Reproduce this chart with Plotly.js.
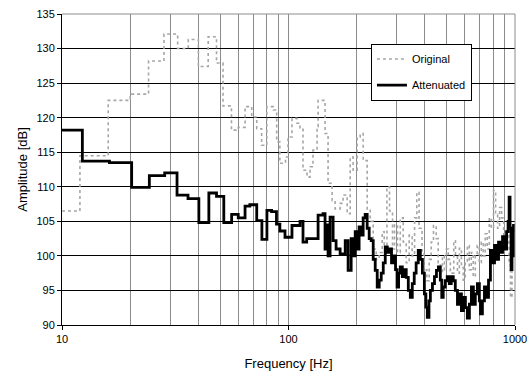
<!DOCTYPE html>
<html>
<head>
<meta charset="utf-8">
<script src="https://cdn.plot.ly/plotly-3.0.1.min.js"></script>
<style>html,body{margin:0;padding:0;background:#fff;}#chart{width:532px;height:373px;}</style>
</head>
<body>
<div id="chart"></div>
<script>
// Original (dotted) – frequency [Hz] and amplitude [dB]
const origFreq = [10, 12, 16, 20, 24.1, 28.2, 32.4, 36.1, 40, 44.2, 48.1, 51.4, 56, 60, 64.3, 68.8, 72.4, 76.1, 80.2, 85.7, 88.7, 91.6, 97,
  99.5, 103.6, 109, 112.4, 115.9, 120.7, 124.5, 128.3, 133.7, 135.1, 145, 149.5, 155.8, 160.6, 169, 174.2, 181.5, 187.2, 192.9, 200.9, 207.2, 213.6, 222.5,
  229.5, 236.6, 243.9, 251.5, 259.2, 264.6, 272, 279.3, 287.9, 293.8, 302.9, 311.5, 321, 331, 341, 351.5, 360.3, 368.6, 377, 388.6, 396.7, 408, 418, 426.6,
  436.7, 449, 458, 468.2, 478, 487.8, 497.9, 508, 518.3, 536.5, 546, 557, 568, 580, 591, 603, 616, 628, 641, 654, 668, 681, 695, 710, 724, 739, 754, 770,
  785, 804, 821, 838, 855, 873, 891, 909, 928, 942, 955, 970, 985, 1000];
const origDb = [106.5, 114.5, 122.5, 123.4, 128.2, 132.1, 130.0, 131.3, 127.4, 131.7, 127.9, 121.7, 118.2, 118.6, 121.6, 120.1, 118.4, 116.0, 121.6, 121.1, 116.5, 113.4, 114.3,
  117.2, 119.9, 119.2, 118.3, 112.4, 111.4, 112.9, 115.3, 118.7, 122.5, 117.7, 110.5, 108.0, 106.8, 107.6, 108.8, 106.1, 114.3, 112.4, 117.2, 117.7, 113.8, 106.6,
  105.0, 101.0, 99.5, 100.5, 103.5, 101.5, 110.0, 106.5, 101.0, 104.5, 100.5, 105.5, 102.0, 99.0, 103.0, 100.0, 105.5, 109.2, 104.0, 100.5, 98.0, 96.4, 99.5, 102.0,
  104.4, 102.5, 99.0, 97.5, 100.0, 98.0, 101.0, 99.5, 97.5, 102.2, 100.0, 97.5, 101.1, 98.5, 96.5, 99.0, 101.5, 98.0, 100.5, 97.0, 100.0, 101.5, 99.0, 102.0, 100.0, 103.2, 101.0, 105.5,
  104.0, 109.5, 106.0, 104.0, 107.0, 105.5, 103.0, 101.5, 104.0, 99.0, 94.0, 100.5, 103.0, 100.0];

// Attenuated (solid) – frequency [Hz] and amplitude [dB]
const attFreq = [10, 12.3, 16.2, 20.3, 24.3, 28.4, 32.2, 36, 40.2, 44.5, 48.1, 51.8, 56.1, 60, 64.3, 67.5, 72.4, 76.3, 80.3, 84.2, 88.5, 91.6, 96.5,
  103.6, 112.4, 115.9, 120.3, 135.1, 142.1, 145, 147.4, 149.5, 152.6, 157.4, 162.2, 169, 178, 183.3, 189.1, 192.9, 197, 200.9, 205, 209.3, 213.6, 218, 222.5, 227.1,
  231.8, 236.6, 241.5, 246.4, 251.5, 256.7, 262, 267.4, 273, 279.3, 285, 290.8, 296.8, 301.5, 306.3, 311.5, 318, 324.5, 331, 338, 345, 352, 359, 366, 374, 382,
  390, 398, 404, 410, 417, 423, 432, 441, 450, 459, 468, 475, 482, 492, 502, 513, 523, 534, 545, 557, 568, 580, 592, 604, 616, 629, 642, 655, 668, 682, 696, 704,
  718, 733, 748, 764, 779, 795, 812, 829, 846, 863, 881, 899, 918, 932, 942, 951, 961, 970, 985, 1000];
const attDb = [118.2, 113.7, 113.5, 109.9, 111.6, 112.0, 108.8, 108.3, 104.8, 109.1, 108.6, 104.8, 106.0, 105.5, 107.2, 107.4, 105.1, 102.4, 106.6, 106.4, 104.6, 103.6, 102.7,
  104.4, 105.0, 102.0, 102.5, 105.9, 106.1, 101.0, 104.5, 100.0, 105.6, 102.2, 101.0, 100.3, 102.2, 97.9, 102.5, 100.0, 103.5, 101.0, 104.2, 103.0, 105.5, 106.0, 104.0, 102.5,
  102.2, 99.5, 97.9, 95.5, 96.5, 97.5, 99.0, 101.3, 100.5, 101.0, 99.0, 100.0, 98.0, 95.5, 97.5, 98.4, 97.0, 98.0, 96.9, 95.0, 94.0, 96.0, 97.5, 99.0, 100.8, 99.5,
  97.5, 94.5, 92.6, 91.1, 93.5, 95.0, 96.0, 97.0, 97.9, 98.4, 96.5, 94.0, 95.5, 96.4, 97.0, 96.0, 97.0, 96.4, 95.0, 93.0, 94.5, 92.1, 94.0, 92.5, 91.0, 93.0, 95.5, 93.0, 94.5, 96.0, 93.5, 91.6,
  93.5, 95.5, 94.0, 96.5, 100.8, 99.0, 101.5, 99.5, 102.0, 100.5, 102.8, 101.0, 103.5, 105.0, 108.5, 104.0, 98.0, 100.0, 104.4, 103.5];

const xTickVals = [10, 100, 1000];
const xTickText = ['10', '100', '1000'];
const xMinorVals = [20, 30, 40, 50, 60, 70, 80, 90, 200, 300, 400, 500, 600, 700, 800, 900];
const seriesNames = ['Original', 'Attenuated'];

const traces = [
  {
    x: origFreq, y: origDb, name: seriesNames[0], type: 'scatter', mode: 'lines',
    line: {shape: 'hv', color: '#a6a6a6', width: 1.6, dash: 'dot'},
    legendgroup: 'a'
  },
  {
    x: attFreq, y: attDb, name: seriesNames[1], type: 'scatter', mode: 'lines',
    line: {shape: 'hv', color: '#000000', width: 2.8},
    legendgroup: 'b'
  }
];

const layout = {
  width: 532, height: 373,
  margin: {l: 62, r: 17, t: 14, b: 48},
  paper_bgcolor: '#ffffff', plot_bgcolor: '#ffffff',
  font: {family: 'Liberation Sans, Arial, sans-serif', size: 11, color: '#000'},
  showlegend: true,
  legend: {
    x: 0.682, y: 0.905, xanchor: 'left', yanchor: 'top',
    bordercolor: '#000', borderwidth: 1, bgcolor: '#fff',
    font: {size: 11, family: 'Liberation Sans, Arial, sans-serif'},
    itemwidth: 30, tracegroupgap: 7
  },
  xaxis: {
    type: 'log', range: [1, 3],
    tickvals: xTickVals, ticktext: xTickText,
    ticks: 'outside', ticklen: 4, tickcolor: '#000',
    showline: true, linecolor: '#000', linewidth: 1,
    showgrid: true, gridcolor: '#8c8c8c', gridwidth: 1,
    minor: {tickvals: xMinorVals, showgrid: true, gridcolor: '#8c8c8c', gridwidth: 1, ticks: ''},
    zeroline: false,
    tickfont: {size: 11},
    title: {text: 'Frequency [Hz]', font: {size: 13}, standoff: 14}
  },
  yaxis: {
    range: [90, 135], dtick: 5, tick0: 90,
    ticks: 'outside', ticklen: 4, tickcolor: '#000',
    showline: true, linecolor: '#000', linewidth: 1,
    showgrid: true, gridcolor: '#000', gridwidth: 1,
    zeroline: false,
    tickfont: {size: 11},
    title: {text: 'Amplitude [dB]', font: {size: 13}, standoff: 5}
  },
  shapes: [
    {type: 'line', xref: 'paper', yref: 'paper', x0: 0, x1: 1, y0: 1, y1: 1, line: {color: '#8c8c8c', width: 1}, layer: 'above'},
    {type: 'line', xref: 'paper', yref: 'paper', x0: 1, x1: 1, y0: 0, y1: 1, line: {color: '#8c8c8c', width: 1}, layer: 'above'}
  ]
};

Plotly.newPlot('chart', traces, layout, {staticPlot: true, displayModeBar: false});
</script>
</body>
</html>
